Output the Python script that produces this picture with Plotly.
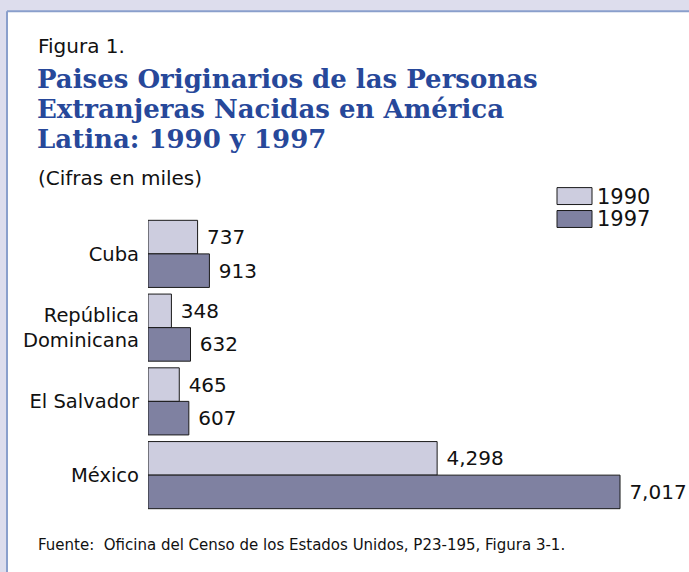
import plotly.graph_objects as go

# Data
countries = ["Cuba", "República<br>Dominicana", "El Salvador", "México"]
values_1990 = [737, 348, 465, 4298]
values_1997 = [913, 632, 607, 7017]
series_names = ["1990", "1997"]
title_lines = ["Paises Originarios de las Personas", "Extranjeras Nacidas en América", "Latina: 1990 y 1997"]

W, H = 689, 572
L, R = 148, 3
T, B = 216.5, 59.5
PW = W - L - R
PH = H - T - B


def px(x):
    return (x - L) / PW


def py(y):
    return (H - B - y) / PH


FONT = "DejaVu Sans"
C1990 = "#cdcddf"
C1997 = "#7f81a1"
EDGE = "#1a1a1a"

fig = go.Figure()
for name, vals, col in [(series_names[0], values_1990, C1990), (series_names[1], values_1997, C1997)]:
    fig.add_trace(go.Bar(
        y=countries, x=vals, orientation="h", name=name,
        marker=dict(color=col, line=dict(color=EDGE, width=1)),
        text=[" " + f"{v:,}" for v in vals], textposition="outside",
        textfont=dict(family=FONT, size=20, color="#111"),
        cliponaxis=False, showlegend=False, hoverinfo="skip",
    ))

shapes = [
    # white panel
    dict(type="rect", xref="paper", yref="paper", x0=px(7), x1=px(700), y0=py(590), y1=py(10),
         fillcolor="white", line=dict(width=0), layer="below"),
    dict(type="line", xref="paper", yref="paper", x0=px(7), x1=px(7), y0=py(590), y1=py(10),
         line=dict(color="#8a9fcc", width=2), layer="below"),
    dict(type="line", xref="paper", yref="paper", x0=px(7), x1=px(700), y0=py(10), y1=py(10),
         line=dict(color="#8a9fcc", width=2), layer="below"),
    # legend boxes
    dict(type="rect", xref="paper", yref="paper", x0=px(557), x1=px(592), y0=py(204), y1=py(187),
         fillcolor=C1990, line=dict(color=EDGE, width=1)),
    dict(type="rect", xref="paper", yref="paper", x0=px(557), x1=px(592), y0=py(227), y1=py(210),
         fillcolor=C1997, line=dict(color=EDGE, width=1)),
]

annotations = [
    dict(text="Figura 1.", x=px(36), y=py(45), xanchor="left", yanchor="middle",
         font=dict(family=FONT, size=20, color="#111")),
    dict(text="(Cifras en miles)", x=px(36), y=py(177), xanchor="left", yanchor="middle",
         font=dict(family=FONT, size=20, color="#111")),
    dict(text="Fuente:  Oficina del Censo de los Estados Unidos, P23-195, Figura 3-1.",
         x=px(36), y=py(546), xanchor="left", yanchor="middle",
         font=dict(family=FONT, size=15, color="#111")),
    dict(text=series_names[0], x=px(595), y=py(196), xanchor="left", yanchor="middle",
         font=dict(family=FONT, size=21, color="#111")),
    dict(text=series_names[1], x=px(595), y=py(219), xanchor="left", yanchor="middle",
         font=dict(family=FONT, size=21, color="#111")),
]
for i, line in enumerate(title_lines):
    annotations.append(dict(text="<b>" + line + "</b>", x=px(35), y=py(78 + 30 * i),
                            xanchor="left", yanchor="middle",
                            font=dict(family="DejaVu Serif", size=26, color="#27489a")))
for a in annotations:
    a.update(xref="paper", yref="paper", showarrow=False)

fig.update_layout(
    width=W, height=H,
    margin=dict(l=L, r=R, t=T, b=B, pad=0),
    paper_bgcolor="#dddded", plot_bgcolor="rgba(0,0,0,0)",
    barmode="group", bargap=0.09, bargroupgap=0,
    shapes=shapes, annotations=annotations,
    showlegend=False, hovermode=False,
)
fig.update_xaxes(range=[0, PW / 0.06727], visible=False, showgrid=False, zeroline=False)
fig.update_yaxes(autorange="reversed", showgrid=False, zeroline=False, showline=False,
                 ticks="", ticklabelstandoff=8,
                 tickfont=dict(family=FONT, size=19.5, color="#111"))

fig.write_html("out.html", config={"displayModeBar": False},
               post_script="document.body.style.margin='0';document.body.style.overflow='hidden';")
